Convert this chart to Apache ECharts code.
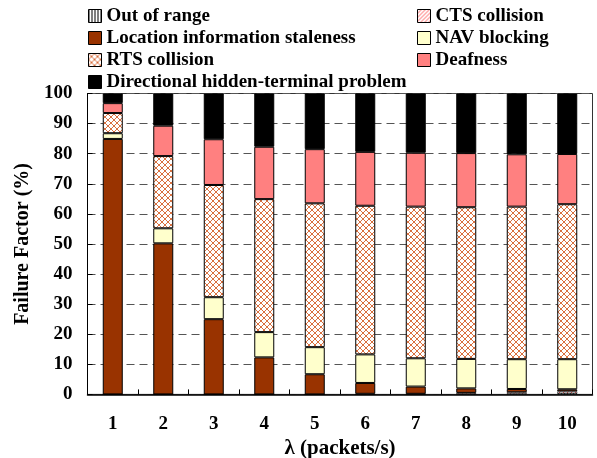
<!DOCTYPE html>
<html>
<head>
<meta charset="utf-8">
<script src="https://cdn.jsdelivr.net/npm/echarts@6/dist/echarts.min.js"></script>
<style>
  html, body { margin: 0; padding: 0; background: #fff; }
  #chart { width: 597px; height: 458px; }
</style>
</head>
<body>
<div id="chart"></div>
<script>
// Arrival rate λ (packets/s)
const categories = ['1', '2', '3', '4', '5', '6', '7', '8', '9', '10'];

// Share of each failure cause (%), stacked bottom to top
const outOfRange  = [0, 0, 0, 0, 0, 0, 0.1, 0.2, 0.3, 0.4];
const ctsCollision = [0, 0, 0, 0, 0, 0.2, 0.1, 0.3, 0.4, 0.6];
const locationStaleness = [84.9, 50.2, 25.0, 12.3, 6.7, 3.6, 2.4, 1.5, 1.1, 0.7];
const navBlocking = [1.9, 5.0, 7.3, 8.4, 9.0, 9.5, 9.4, 9.8, 9.9, 10.0];
const rtsCollision = [6.7, 24.0, 37.3, 44.2, 47.8, 49.4, 50.4, 50.4, 50.7, 51.5];
const deafness = [3.3, 10.1, 15.2, 17.4, 18.0, 17.9, 17.9, 18.0, 17.4, 16.7];
const directionalHidden = [3.2, 10.7, 15.2, 17.7, 18.5, 19.4, 19.7, 19.8, 20.2, 20.1];

const seriesNames = [
  'Out of range', 'CTS collision',
  'Location information staleness', 'NAV blocking',
  'RTS collision', 'Deafness',
  'Directional hidden-terminal problem'
];

// Small tiled canvases used as fill patterns
function pattern(size, draw) {
  const c = document.createElement('canvas');
  c.width = size; c.height = size;
  const g = c.getContext('2d');
  g.fillStyle = '#ffffff';
  g.fillRect(0, 0, size, size);
  draw(g, size);
  return { image: c, repeat: 'repeat' };
}

const verticalLines = pattern(3, (g, s) => {
  g.fillStyle = '#000000';
  g.fillRect(0, 0, 1, s);
});

const diagonalRed = pattern(4, (g, s) => {
  g.fillStyle = '#ff5a5a';
  for (let i = 0; i < s; i++) g.fillRect(i, s - 1 - i, 1, 1);
});

const crossHatch = pattern(6, (g, s) => {
  g.fillStyle = '#d9703f';
  for (let i = 0; i < s; i++) {
    g.fillRect(i, i, 1, 1);
    g.fillRect(s - 1 - i, i, 1, 1);
  }
});

const fills = [verticalLines, diagonalRed, '#993300', '#ffffcc', crossHatch, '#ff8080', '#000000'];
const values = [outOfRange, ctsCollision, locationStaleness, navBlocking, rtsCollision, deafness, directionalHidden];
// thin outline on the tiny bottom slices so they read as strips, not black bands
const borderWidths = [0.5, 0.5, 1, 1, 1, 1, 1];

const font = { fontFamily: 'Liberation Serif', fontWeight: 'bold', color: '#000' };

const chart = echarts.init(document.getElementById('chart'), null, { renderer: 'canvas' });

const legendCommon = {
  orient: 'vertical',
  icon: 'rect',
  itemWidth: 13,
  itemHeight: 13,
  itemGap: 3,
  selectedMode: false,
  itemStyle: { borderColor: '#000', borderWidth: 1 },
  textStyle: Object.assign({ fontSize: 19 }, font)
};

chart.setOption({
  animation: false,
  backgroundColor: '#fff',
  legend: [
    Object.assign({ left: 83, top: 1.5, data: [seriesNames[0], seriesNames[2], seriesNames[4], seriesNames[6]] }, legendCommon),
    Object.assign({ left: 412, top: 1.5, data: [seriesNames[1], seriesNames[3], seriesNames[5]] }, legendCommon)
  ],
  grid: {
    left: 87.5, right: 4.5, top: 93.5, bottom: 63.6,
    outerBoundsMode: 'none',
    show: true, borderColor: '#333', borderWidth: 1
  },
  xAxis: {
    type: 'category',
    data: categories,
    name: 'λ (packets/s)',
    nameLocation: 'middle',
    nameGap: 40,
    nameTextStyle: Object.assign({ fontSize: 21 }, font),
    axisLine: { show: true, lineStyle: { color: '#000', width: 1.5 } },
    axisTick: { show: true, inside: true, length: 5, lineStyle: { color: '#000' } },
    axisLabel: Object.assign({ fontSize: 19, margin: 20 }, font),
    z: 5
  },
  yAxis: {
    type: 'value',
    min: 0, max: 100, interval: 10,
    name: 'Failure Factor (%)',
    nameLocation: 'middle',
    nameGap: 55,
    nameTextStyle: Object.assign({ fontSize: 20 }, font),
    axisLine: { show: true, lineStyle: { color: '#000', width: 1 } },
    axisTick: { show: true, inside: true, length: 5, lineStyle: { color: '#000' } },
    axisLabel: Object.assign({ fontSize: 19, margin: 15 }, font),
    splitLine: { show: true, lineStyle: { color: '#555', type: [8, 5], width: 1 } }
  },
  series: seriesNames.map((name, i) => ({
    name: name,
    type: 'bar',
    stack: 'failure',
    barWidth: 20,
    data: values[i],
    itemStyle: { color: fills[i], borderColor: '#000', borderWidth: borderWidths[i] }
  }))
});
</script>
</body>
</html>
